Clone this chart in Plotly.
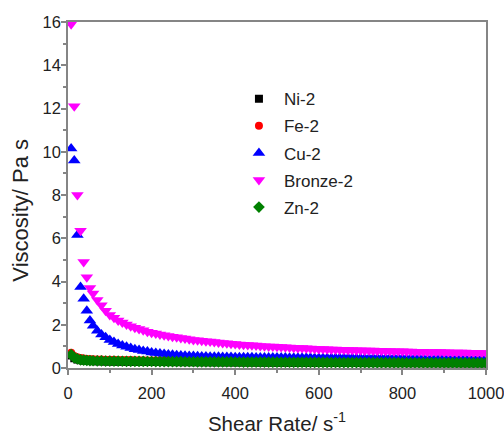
import plotly.graph_objects as go

# Shear rate grid (s^-1), shared by all series
shear_rate = [7.5, 15, 22.5, 30, 37.5, 45, 52.5, 60,
              70, 80, 90, 100, 110, 120, 130, 140, 150, 160,
              170, 180, 190, 200, 210, 220, 230, 240, 250, 260,
              270, 280, 290, 300, 310, 320, 330, 340, 350, 360,
              370, 380, 390, 400, 410, 420, 430, 440, 450, 460,
              470, 480, 490, 500, 510, 520, 530, 540, 550, 560,
              570, 580, 590, 600, 610, 620, 630, 640, 650, 660,
              670, 680, 690, 700, 710, 720, 730, 740, 750, 760,
              770, 780, 790, 800, 810, 820, 830, 840, 850, 860,
              870, 880, 890, 900, 910, 920, 930, 940, 950, 960,
              970, 980, 990, 1000]

bronze_2 = [15.9, 12.1, 8.0, 6.35, 4.9, 4.2, 3.7, 3.45,
            3.15, 2.9, 2.65, 2.45, 2.32, 2.2, 2.1, 2.01, 1.93, 1.86,
            1.8, 1.74, 1.68, 1.63, 1.59, 1.55, 1.51, 1.48, 1.45, 1.42,
            1.39, 1.36, 1.33, 1.3, 1.28, 1.26, 1.24, 1.22, 1.2, 1.18,
            1.16, 1.14, 1.12, 1.11, 1.09, 1.08, 1.06, 1.05, 1.04, 1.02,
            1.01, 1.0, 0.99, 0.98, 0.97, 0.96, 0.95, 0.94, 0.93, 0.92,
            0.91, 0.9, 0.89, 0.88, 0.875, 0.87, 0.86, 0.85, 0.845, 0.84,
            0.835, 0.83, 0.825, 0.82, 0.815, 0.81, 0.805, 0.8, 0.795, 0.79,
            0.785, 0.78, 0.775, 0.77, 0.765, 0.76, 0.755, 0.75, 0.748, 0.745,
            0.742, 0.74, 0.735, 0.73, 0.725, 0.72, 0.718, 0.715, 0.712, 0.71,
            0.705, 0.7, 0.695, 0.69]

cu_2 = [10.15, 9.6, 6.15, 3.75, 3.2, 2.65, 2.2, 1.95,
        1.72, 1.55, 1.42, 1.3, 1.2, 1.11, 1.04, 0.98, 0.92, 0.87,
        0.83, 0.79, 0.76, 0.72, 0.69, 0.67, 0.65, 0.63, 0.61, 0.59,
        0.58, 0.57, 0.56, 0.55, 0.54, 0.535, 0.53, 0.525, 0.52, 0.515,
        0.51, 0.51, 0.505, 0.5, 0.5, 0.5, 0.495, 0.495, 0.49, 0.49,
        0.49, 0.485, 0.485, 0.48, 0.48, 0.48, 0.478, 0.476, 0.474, 0.472,
        0.47, 0.47, 0.468, 0.466, 0.465, 0.464, 0.463, 0.462, 0.46, 0.46,
        0.458, 0.457, 0.456, 0.455, 0.454, 0.453, 0.452, 0.451, 0.45, 0.45,
        0.449, 0.448, 0.447, 0.446, 0.445, 0.444, 0.443, 0.442, 0.441, 0.44,
        0.44, 0.439, 0.438, 0.437, 0.436, 0.435, 0.434, 0.433, 0.432, 0.431,
        0.43, 0.43, 0.429, 0.428]

zn_2 = [0.62, 0.48, 0.42, 0.38, 0.36, 0.35, 0.34, 0.335,
        0.33, 0.325, 0.32, 0.318, 0.316, 0.314, 0.312, 0.31, 0.308, 0.306,
        0.304, 0.302, 0.3, 0.3, 0.298, 0.296, 0.295, 0.294, 0.293, 0.292,
        0.291, 0.29, 0.289, 0.288, 0.287, 0.286, 0.285, 0.284, 0.283, 0.282,
        0.281, 0.28, 0.279, 0.278, 0.277, 0.276, 0.275, 0.274, 0.273, 0.272,
        0.271, 0.27, 0.269, 0.268, 0.267, 0.266, 0.265, 0.264, 0.263, 0.262,
        0.261, 0.26, 0.259, 0.258, 0.257, 0.256, 0.255, 0.254, 0.253, 0.252,
        0.251, 0.25, 0.25, 0.249, 0.248, 0.248, 0.247, 0.246, 0.246, 0.245,
        0.245, 0.244, 0.244, 0.243, 0.243, 0.242, 0.242, 0.241, 0.241, 0.24,
        0.24, 0.24, 0.239, 0.239, 0.238, 0.238, 0.238, 0.237, 0.237, 0.236,
        0.236, 0.236, 0.235, 0.235]

fe_2 = [0.7, 0.56, 0.5, 0.46, 0.44, 0.42, 0.41, 0.4,
        0.395, 0.39, 0.385, 0.382, 0.378, 0.375, 0.372, 0.368, 0.365, 0.362,
        0.358, 0.355, 0.352, 0.35, 0.346, 0.343, 0.34, 0.336, 0.333, 0.33,
        0.326, 0.322, 0.318, 0.314, 0.31, 0.306, 0.303, 0.3, 0.298, 0.296,
        0.295, 0.294, 0.293, 0.292, 0.291, 0.29, 0.289, 0.288, 0.287, 0.286,
        0.285, 0.284, 0.283, 0.282, 0.281, 0.28, 0.279, 0.278, 0.277, 0.276,
        0.275, 0.274, 0.273, 0.272, 0.271, 0.27, 0.269, 0.268, 0.267, 0.266,
        0.265, 0.264, 0.264, 0.263, 0.262, 0.262, 0.261, 0.26, 0.26, 0.259,
        0.259, 0.258, 0.258, 0.257, 0.257, 0.256, 0.256, 0.255, 0.255, 0.254,
        0.254, 0.254, 0.253, 0.253, 0.252, 0.252, 0.252, 0.251, 0.251, 0.25,
        0.25, 0.25, 0.249, 0.249]

ni_2 = [0.58, 0.45, 0.39, 0.36, 0.34, 0.33, 0.32, 0.315,
        0.31, 0.305, 0.3, 0.298, 0.296, 0.294, 0.292, 0.29, 0.288, 0.286,
        0.284, 0.282, 0.28, 0.28, 0.278, 0.276, 0.275, 0.274, 0.273, 0.272,
        0.271, 0.27, 0.269, 0.268, 0.267, 0.266, 0.265, 0.264, 0.263, 0.262,
        0.261, 0.26, 0.259, 0.258, 0.257, 0.256, 0.255, 0.254, 0.253, 0.252,
        0.251, 0.25, 0.249, 0.248, 0.247, 0.246, 0.245, 0.244, 0.243, 0.242,
        0.241, 0.24, 0.239, 0.238, 0.237, 0.236, 0.235, 0.234, 0.233, 0.232,
        0.231, 0.23, 0.23, 0.229, 0.228, 0.228, 0.227, 0.226, 0.226, 0.225,
        0.225, 0.224, 0.224, 0.223, 0.223, 0.222, 0.222, 0.221, 0.221, 0.22,
        0.22, 0.22, 0.219, 0.219, 0.218, 0.218, 0.218, 0.217, 0.217, 0.216,
        0.216, 0.216, 0.215, 0.215]

series_names = ["Ni-2", "Fe-2", "Cu-2", "Bronze-2", "Zn-2"]
series_values = [ni_2, fe_2, cu_2, bronze_2, zn_2]
series_colors = ["#000000", "#ff0000", "#0000ff", "#ff00ff", "#008000"]
series_symbols = ["square", "circle", "triangle-up", "triangle-down", "diamond"]
series_sizes = [8, 8, 11, 11, 9]

x_tick_vals = [0, 200, 400, 600, 800, 1000]
y_tick_vals = [0, 2, 4, 6, 8, 10, 12, 14, 16]

FONT = "Liberation Sans, Arial, sans-serif"
TXT = "#222222"
AX = "#858585"

fig = go.Figure()
for name, vals, col, sym, sz in zip(series_names, series_values, series_colors, series_symbols, series_sizes):
    fig.add_trace(go.Scatter(
        x=shear_rate, y=vals, name=name, mode="markers", legendgroup=name,
        marker=dict(color=col, symbol=sym, size=sz, line=dict(width=0)),
    ))

axis_common = dict(
    showline=True, linecolor=AX, linewidth=1.5, mirror=True,
    showgrid=False, zeroline=False, automargin=False,
    ticks="outside", ticklen=5, tickwidth=1.5, tickcolor=AX,
    tickfont=dict(family=FONT, size=16.5, color=TXT),
    ticklabeloverflow="allow",
)

fig.update_layout(
    width=504, height=435,
    margin=dict(l=68, r=18, t=22, b=67),
    paper_bgcolor="white", plot_bgcolor="white",
    font=dict(family=FONT, color=TXT),
    showlegend=True,
    legend=dict(
        x=0.397, y=0.829, xanchor="left", yanchor="top",
        bgcolor="rgba(0,0,0,0)", borderwidth=0,
        font=dict(family=FONT, size=17, color=TXT),
        tracegroupgap=2, itemwidth=40,
    ),
    xaxis=dict(
        range=[0, 1000], tickvals=x_tick_vals, ticklabelstandoff=4,
        minor=dict(dtick=100, ticks="outside", ticklen=3, tickwidth=1.5, tickcolor=AX),
        title=dict(text="Shear Rate/ s<sup>-1</sup>", font=dict(family=FONT, size=20.5, color=TXT), standoff=26),
        **axis_common,
    ),
    yaxis=dict(
        range=[0, 16], tickvals=y_tick_vals, ticklabelstandoff=-3,
        minor=dict(dtick=1, ticks="outside", ticklen=3, tickwidth=1.5, tickcolor=AX),
        **axis_common,
    ),
    annotations=[dict(
        text="Viscosity/ Pa s", textangle=-90, showarrow=False,
        xref="paper", yref="paper", x=-0.113, y=0.457, xanchor="center", yanchor="middle",
        font=dict(family=FONT, size=22, color=TXT),
    )],
)

fig.write_html("out.html", config={"displayModeBar": False},
               post_script="document.body.style.margin='0px';")
